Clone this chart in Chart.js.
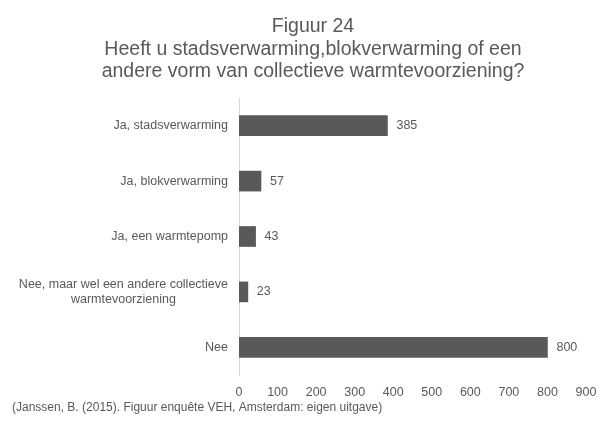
<!DOCTYPE html>
<html><head><meta charset="utf-8">
<script src="https://cdn.jsdelivr.net/npm/chart.js@4"></script>
<style>html,body{margin:0;padding:0;background:#fff}#wrap{width:600px;height:422px;position:relative}</style>
</head><body><div id="wrap"><canvas id="c" width="600" height="422"></canvas></div>
<script>
const titleLines = ["Figuur 24", "Heeft u stadsverwarming,blokverwarming of een", "andere vorm van collectieve warmtevoorziening?"];
const categories = [["Ja, stadsverwarming"], ["Ja, blokverwarming"], ["Ja, een warmtepomp"], ["Nee, maar wel een andere collectieve", "warmtevoorziening"], ["Nee"]];
const values = [385, 57, 43, 23, 800];
const xTicks = [0, 100, 200, 300, 400, 500, 600, 700, 800, 900];
const footnote = "(Janssen, B. (2015). Figuur enquête VEH, Amsterdam: eigen uitgave)";

const FONT = "'Liberation Sans', Arial, sans-serif";
const TXT = '#595959';

const drawPlugin = {
  id: 'custom',
  afterDraw(chart) {
    const ctx = chart.ctx;
    const ys = chart.scales.y;
    const meta = chart.getDatasetMeta(0);
    ctx.save();
    // title
    ctx.fillStyle = '#595959';
    ctx.font = '19.5px ' + FONT;
    ctx.textAlign = 'center';
    ctx.textBaseline = 'middle';
    titleLines.forEach((t, i) => ctx.fillText(t, 313, 27 + i * 22.5));
    // category labels
    ctx.fillStyle = TXT;
    ctx.font = '12.5px ' + FONT;
    categories.forEach((lines, i) => {
      const yc = ys.getPixelForValue(i);
      let w = 0;
      lines.forEach(l => { w = Math.max(w, ctx.measureText(l).width); });
      const cx = chart.chartArea.left - 11 - w / 2;
      const lh = 15;
      lines.forEach((l, j) => {
        ctx.fillText(l, cx, yc + (j - (lines.length - 1) / 2) * lh);
      });
    });
    // value labels
    ctx.textAlign = 'left';
    meta.data.forEach((bar, i) => {
      ctx.fillText(String(values[i]), bar.x + 9, bar.y);
    });
    // footnote
    ctx.font = '12px ' + FONT;
    ctx.fillText(footnote, 12, 408);
    ctx.restore();
  }
};

new Chart(document.getElementById('c'), {
  type: 'bar',
  data: {
    labels: categories.map(c => c.join(' ')),
    datasets: [{
      data: values,
      backgroundColor: '#595959',
      borderColor: '#595959',
      borderWidth: 0,
      barThickness: 20
    }]
  },
  options: {
    indexAxis: 'y',
    responsive: false,
    animation: false,
    layout: { padding: { top: 98, right: 14, left: 0, bottom: 0 } },
    plugins: { legend: { display: false }, tooltip: { enabled: false } },
    scales: {
      x: {
        min: 0, max: 900,
        afterBuildTicks(s) { s.ticks = xTicks.map(v => ({ value: v })); },
        afterFit(s) { s.height = 47; s.paddingRight = 0; s.paddingLeft = 0; },
        grid: { display: false, drawTicks: false },
        border: { display: false },
        ticks: { color: TXT, font: { family: FONT, size: 12.5 }, padding: 10 }
      },
      y: {
        afterFit(s) { s.width = 239; s.paddingTop = 0; s.paddingBottom = 0; },
        grid: { display: false, drawTicks: false },
        border: { display: true, color: '#d9d9d9', width: 1 },
        ticks: { display: false }
      }
    }
  },
  plugins: [drawPlugin]
});
</script></body></html>
